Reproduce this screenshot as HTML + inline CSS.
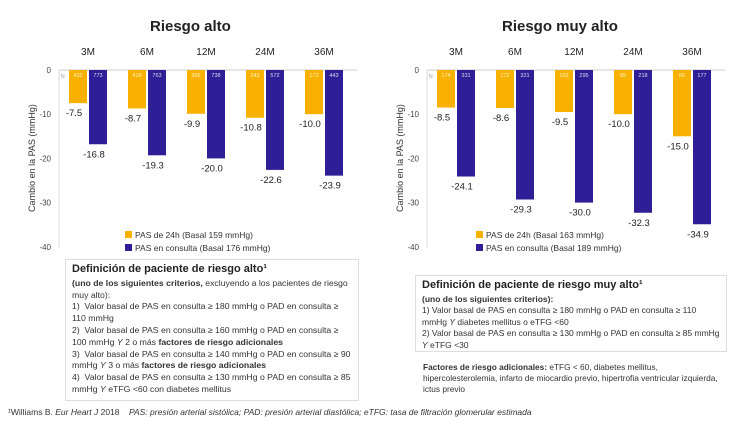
<!DOCTYPE html>
<html><head><meta charset="utf-8"><style>
body{margin:0;background:#fff;width:750px;height:421px;overflow:hidden;font-family:"Liberation Sans",sans-serif;color:#222;position:relative}
.t{position:absolute;white-space:nowrap}
.box{position:absolute;border:1px solid #ddd;font-size:8.7px;line-height:11.8px;padding:4px 6px;box-sizing:border-box;color:#333;overflow:hidden}
.box h3{margin:0 0 2px;font-size:11px;color:#222}
</style></head><body>
<div class="t" style="left:150px;top:18px;font-size:15px;font-weight:bold">Riesgo alto</div>
<div class="t" style="left:502px;top:18px;font-size:15px;font-weight:bold">Riesgo muy alto</div>
<svg id="c" width="750" height="421" style="position:absolute;left:0;top:0"></svg>
<div class="box" style="left:65px;top:259px;width:294px;height:142px">
<h3>Definición de paciente de riesgo alto¹</h3>
<b>(uno de los siguientes criterios,</b> excluyendo a los pacientes de riesgo muy alto):<br>
1)&nbsp; Valor basal de PAS en consulta ≥ 180 mmHg o PAD en consulta ≥ 110 mmHg<br>
2)&nbsp; Valor basal de PAS en consulta ≥ 160 mmHg o PAD en consulta ≥ 100 mmHg <i>Y</i> 2 o más <b>factores de riesgo adicionales</b><br>
3)&nbsp; Valor basal de PAS en consulta ≥ 140 mmHg o PAD en consulta ≥ 90 mmHg <i>Y</i> 3 o más <b>factores de riesgo adicionales</b><br>
4)&nbsp; Valor basal de PAS en consulta ≥ 130 mmHg o PAD en consulta ≥ 85 mmHg <i>Y</i> eTFG &lt;60 con diabetes mellitus
</div>
<div class="box" style="left:415px;top:275px;width:312px;height:77px;font-size:8.5px;line-height:11.5px">
<h3>Definición de paciente de riesgo muy alto¹</h3>
<b>(uno de los siguientes criterios):</b><br>
1) Valor basal de PAS en consulta ≥ 180 mmHg o PAD en consulta ≥ 110 mmHg <i>Y</i> diabetes mellitus o eTFG &lt;60<br>
2) Valor basal de PAS en consulta ≥ 130 mmHg o PAD en consulta ≥ 85 mmHg <i>Y</i> eTFG &lt;30
</div>
<div class="t" style="left:423px;top:362px;font-size:8.3px;line-height:11px;white-space:normal;width:310px;color:#333"><b>Factores de riesgo adicionales:</b> eTFG &lt; 60, diabetes mellitus, hipercolesterolemia, infarto de miocardio previo, hipertrofia ventricular izquierda, ictus previo</div>
<div class="t" style="left:8px;top:407px;font-size:8.5px;color:#333">¹Williams B. <i>Eur Heart J</i> 2018 &nbsp;&nbsp; <i>PAS: presión arterial sistólica; PAD: presión arterial diastólica; eTFG: tasa de filtración glomerular estimada</i></div>
<script>
const categories=["3M","6M","12M","24M","36M"];
const highAmb=[-7.5,-8.7,-9.9,-10.8,-10.0];
const highOffice=[-16.8,-19.3,-20.0,-22.6,-23.9];
const highAmbN=[432,418,366,243,173];
const highOfficeN=[773,763,738,572,443];
const vhAmb=[-8.5,-8.6,-9.5,-10.0,-15.0];
const vhOffice=[-24.1,-29.3,-30.0,-32.3,-34.9];
const vhAmbN=[174,172,153,89,66];
const vhOfficeN=[331,321,295,218,177];
const yTicks=[0,-10,-20,-30,-40];
const legendHigh=["PAS de 24h (Basal 159 mmHg)","PAS en consulta (Basal 176 mmHg)"];
const legendVH=["PAS de 24h (Basal 163 mmHg)","PAS en consulta (Basal 189 mmHg)"];
const svg=document.getElementById('c');
const NS="http://www.w3.org/2000/svg";
function mk(tag,attrs,txt){const e=document.createElementNS(NS,tag);for(const k in attrs)e.setAttribute(k,attrs[k]);if(txt!=null)e.textContent=txt;svg.appendChild(e);return e;}
function chart(id,axX,firstC,amb,off,ambN,offN,legend,legX){
  const y=v=>70+(-v)*4.42;
  const cx=i=>firstC+i*59;
  let e=mk('line',{x1:axX,y1:70,x2:axX,y2:248,stroke:'#ddd'});
  
  e=mk('line',{x1:axX,y1:70,x2:axX+298,y2:70,stroke:'#ccc'});
  
  yTicks.forEach(t=>{e=mk('text',{x:axX-8,y:y(t)+3,'font-size':8,'text-anchor':'end',fill:'#444'},t);
    });
  e=mk('text',{x:0,y:0,'font-size':9,'text-anchor':'middle',fill:'#333',transform:`translate(${axX-24},158) rotate(-90)`},'Cambio en la PAS (mmHg)');
  
  e=mk('text',{x:axX+2,y:78,'font-size':5,fill:'#999'},'N:');
  
  categories.forEach((c,i)=>{
    e=mk('text',{x:cx(i),y:55,'font-size':10,'text-anchor':'middle',fill:'#222'},c);
    
    const xa=cx(i)-19,xb=cx(i)+1;
    e=mk('rect',{x:xa,y:70,width:18,height:y(amb[i])-70,fill:'#f9b100'});
    
    e=mk('rect',{x:xb,y:70,width:18,height:y(off[i])-70,fill:'#2e1f96'});
    
    e=mk('text',{x:xa+9,y:77,'font-size':5.5,'text-anchor':'middle',fill:'#fff3c0'},ambN[i]);
    
    e=mk('text',{x:xb+9,y:77,'font-size':5.5,'text-anchor':'middle',fill:'#dde'},offN[i]);
    
    e=mk('text',{x:xa+5,y:y(amb[i])+13,'font-size':9.5,'text-anchor':'middle',fill:'#222'},amb[i].toFixed(1));
    
    e=mk('text',{x:xb+5,y:y(off[i])+13,'font-size':9.5,'text-anchor':'middle',fill:'#222'},off[i].toFixed(1));
    
  });
  ['#f9b100','#2e1f96'].forEach((col,k)=>{
    e=mk('rect',{x:legX,y:231+k*13,width:7,height:7,fill:col});
    
    e=mk('text',{x:legX+10,y:238+k*13,'font-size':8.5,fill:'#333'},legend[k]);
    
  });
}
chart('high',59,88,highAmb,highOffice,highAmbN,highOfficeN,legendHigh,125);
chart('veryhigh',427,456,vhAmb,vhOffice,vhAmbN,vhOfficeN,legendVH,476);
</script>
</body></html>
